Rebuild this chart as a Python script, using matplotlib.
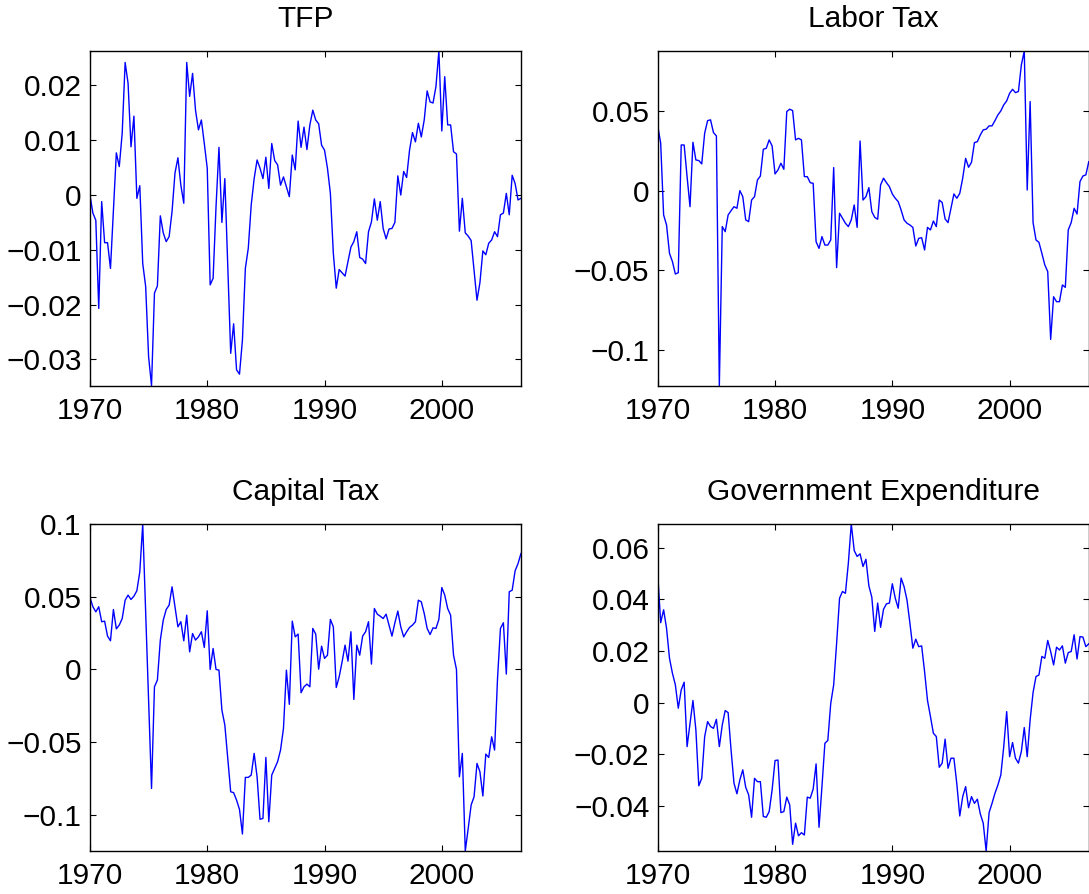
import numpy as np
import matplotlib
matplotlib.use('Agg')
from matplotlib import pyplot as plt
from matplotlib.ticker import FuncFormatter

plt.rcParams['font.family'] = ['Liberation Sans', 'DejaVu Sans']

# quarterly, 1970Q1 .. 2006Q4
years = np.arange(1970, 2007, 0.25)

tfp = [0.000, -0.0033, -0.0046, -0.0207, -0.0012, -0.0087, -0.0087, -0.0134, -0.003, 0.0077,
       0.0052, 0.0113, 0.0242, 0.0204, 0.0088, 0.0144, -0.0006, 0.0017, -0.0125, -0.0167,
       -0.0295, -0.0348, -0.0179, -0.0166, -0.0038, -0.0069, -0.0085, -0.0076, -0.003, 0.004,
       0.0068, 0.0018, -0.0015, 0.0242, 0.018, 0.0222, 0.0155, 0.0119, 0.0137, 0.0094,
       0.0049, -0.0164, -0.0152, -0.0021, 0.0087, -0.005, 0.003, -0.0131, -0.0289, -0.0235,
       -0.0319, -0.0327, -0.0265, -0.0134, -0.0097, -0.0018, 0.003, 0.0064, 0.0049, 0.003,
       0.0069, 0.0012, 0.0094, 0.0063, 0.0055, 0.0018, 0.0033, 0.0015, -0.0003, 0.0073,
       0.0046, 0.0135, 0.0087, 0.0124, 0.0083, 0.0128, 0.0155, 0.0137, 0.013, 0.0091,
       0.0082, 0.0049, 0.0003, -0.0106, -0.017, -0.0136, -0.0142, -0.0148, -0.0122, -0.0095,
       -0.0085, -0.0067, -0.0114, -0.0117, -0.0125, -0.0067, -0.0049, -0.0007, -0.0046, -0.0012,
       -0.0061, -0.008, -0.0062, -0.0061, -0.005, 0.0035, 0.0, 0.0043, 0.0032, 0.0082,
       0.0114, 0.0097, 0.0131, 0.0106, 0.0137, 0.019, 0.017, 0.0168, 0.0198, 0.0263,
       0.0117, 0.0216, 0.0128, 0.0128, 0.0079, 0.0075, -0.0066, -0.0006, -0.0069, -0.0075,
       -0.0083, -0.0137, -0.0192, -0.016, -0.0102, -0.0109, -0.0088, -0.0082, -0.0067, -0.0076,
       -0.0036, -0.0033, 0.0003, -0.0036, 0.0036, 0.0021, -0.0009, -0.0006]

labor_tax = [0.0409, 0.03, -0.0151, -0.0214, -0.0392, -0.0444, -0.0522, -0.0514, 0.0289, 0.0289,
             0.009, -0.0099, 0.0306, 0.0195, 0.0191, 0.017, 0.0363, 0.0442, 0.0447, 0.0367,
             0.0346, -0.1224, -0.0224, -0.0256, -0.0151, -0.0124, -0.0099, -0.0109, 0.0002, -0.0036,
             -0.0182, -0.0193, -0.0057, -0.0036, 0.0069, 0.0094, 0.0262, 0.0268, 0.0321, 0.0283,
             0.0107, 0.0132, 0.0174, 0.0136, 0.0499, 0.0514, 0.0505, 0.0321, 0.0331, 0.0321,
             0.009, 0.009, 0.0052, 0.0048, -0.0319, -0.0361, -0.0287, -0.034, -0.034, -0.0308,
             0.0147, -0.0482, -0.014, -0.0172, -0.0203, -0.0224, -0.0182, -0.0088, -0.0229, 0.0314,
             -0.0057, -0.0036, 0.0021, -0.013, -0.0166, -0.0178, 0.0038, 0.008, 0.0052, 0.0027,
             -0.0019, -0.0046, -0.0067, -0.012, -0.0182, -0.0203, -0.0214, -0.0229, -0.0346, -0.0298,
             -0.0294, -0.0371, -0.0229, -0.0245, -0.0189, -0.0224, -0.0057, -0.0073, -0.0176, -0.0199,
             -0.0109, -0.0019, -0.0046, -0.0015, 0.008, 0.0205, 0.0149, 0.018, 0.0304, 0.031,
             0.0352, 0.0384, 0.0388, 0.0409, 0.0409, 0.0442, 0.0478, 0.0503, 0.0541, 0.0566,
             0.0614, 0.0639, 0.0618, 0.0625, 0.0792, 0.088, 0.0006, 0.0562, -0.0199, -0.0308,
             -0.0323, -0.0392, -0.0465, -0.0507, -0.0933, -0.0665, -0.0696, -0.0696, -0.0591, -0.0606,
             -0.0245, -0.0199, -0.0109, -0.0145, 0.0059, 0.0094, 0.0101, 0.0184]

capital_tax = [0.0495, 0.0431, 0.0396, 0.0431, 0.0328, 0.0332, 0.0229, 0.0197, 0.0412, 0.0279,
               0.0305, 0.035, 0.0476, 0.0511, 0.0481, 0.0504, 0.0541, 0.0671, 0.0999, 0.039,
               -0.021, -0.0818, -0.0119, -0.0073, 0.0202, 0.0339, 0.0412, 0.0442, 0.0568, 0.0431,
               0.0293, 0.0328, 0.0197, 0.0373, 0.0121, 0.0247, 0.0202, 0.0224, 0.0259, 0.0151,
               0.0403, 0.0, 0.0144, 0.0, -0.0005, -0.0279, -0.0382, -0.0612, -0.0841, -0.0847,
               -0.0898, -0.0962, -0.1131, -0.0742, -0.0742, -0.0726, -0.0577, -0.0738, -0.103, -0.1024,
               -0.0605, -0.1047, -0.0726, -0.068, -0.0634, -0.0554, -0.0405, -0.0005, -0.024, 0.0332,
               0.0224, 0.0243, -0.016, -0.0119, -0.0101, -0.0119, 0.0282, 0.0243, 0.0002, 0.016,
               0.0076, 0.0098, 0.0344, 0.0293, -0.0124, -0.005, 0.0053, 0.0167, 0.0057, 0.0259,
               -0.0206, 0.0167, 0.0098, 0.0229, 0.0259, 0.0328, 0.0037, 0.0419, 0.038, 0.0366,
               0.035, 0.038, 0.0305, 0.0229, 0.0321, 0.0401, 0.0293, 0.0224, 0.0259, 0.0289,
               0.0305, 0.0328, 0.0476, 0.0465, 0.0385, 0.0282, 0.024, 0.0286, 0.0282, 0.0344,
               0.0563, 0.0511, 0.0419, 0.0373, 0.0098, 0.0, -0.0738, -0.0577, -0.1248, -0.1093,
               -0.0932, -0.0875, -0.0646, -0.0703, -0.087, -0.0582, -0.0605, -0.0463, -0.0554, -0.0062,
               0.0282, 0.0321, -0.0032, 0.0534, 0.0545, 0.0678, 0.0728, 0.0797]

gov_exp = [0.0495, 0.031, 0.036, 0.0288, 0.0172, 0.0114, 0.0069, -0.0022, 0.0049, 0.0079,
           -0.0171, -0.008, 0.0008, -0.0106, -0.0323, -0.0294, -0.0132, -0.0074, -0.0093, -0.01,
           -0.0065, -0.0171, -0.0087, -0.0031, -0.0039, -0.0184, -0.0313, -0.0354, -0.03, -0.0261,
           -0.0329, -0.0358, -0.0445, -0.0294, -0.0307, -0.0307, -0.0442, -0.0445, -0.0423, -0.0339,
           -0.0225, -0.0223, -0.0427, -0.0423, -0.0367, -0.0397, -0.055, -0.0468, -0.0517, -0.0505,
           -0.0514, -0.0367, -0.0371, -0.0336, -0.0238, -0.0484, -0.0326, -0.0158, -0.0147, -0.0003,
           0.0069, 0.023, 0.0405, 0.0431, 0.0424, 0.0541, 0.0693, 0.059, 0.0567, 0.0577,
           0.0528, 0.0556, 0.0453, 0.0409, 0.0276, 0.0386, 0.0292, 0.0362, 0.0383, 0.0386,
           0.0461, 0.0405, 0.0366, 0.0483, 0.045, 0.0398, 0.0308, 0.0211, 0.0246, 0.0217,
           0.022, 0.012, 0.0008, -0.0054, -0.0119, -0.0132, -0.0251, -0.0235, -0.0142, -0.0255,
           -0.0216, -0.0216, -0.0316, -0.044, -0.0365, -0.0326, -0.0408, -0.0365, -0.0391, -0.0375,
           -0.0432, -0.0468, -0.0576, -0.0427, -0.0391, -0.0352, -0.032, -0.0281, -0.0171, -0.0035,
           -0.021, -0.0155, -0.0216, -0.0235, -0.019, -0.0097, -0.021, -0.0067, 0.0039, 0.0101,
           0.0107, 0.0179, 0.0172, 0.0241, 0.0198, 0.0146, 0.0215, 0.0204, 0.022, 0.0153,
           0.0194, 0.0198, 0.0263, 0.0169, 0.0256, 0.0254, 0.0217, 0.0228]

titles = ['TFP', 'Labor Tax', 'Capital Tax', 'Government Expenditure']
series = [tfp, labor_tax, capital_tax, gov_exp]
yticks = [[-0.03, -0.02, -0.01, 0, 0.01, 0.02],
          [-0.1, -0.05, 0, 0.05],
          [-0.1, -0.05, 0, 0.05, 0.1],
          [-0.04, -0.02, 0, 0.02, 0.04, 0.06]]
xticks = [1970, 1980, 1990, 2000]

fig = plt.figure(figsize=(10.89, 8.94), dpi=100)
# axes boxes in figure fractions: [left, bottom, width, height]
boxes = [[0.0826, 0.5686, 0.3958, 0.3744],
         [0.6040, 0.5686, 0.3958, 0.3744],
         [0.0826, 0.0481, 0.3958, 0.3658],
         [0.6040, 0.0481, 0.3958, 0.3658]]

fmt = FuncFormatter(lambda v, p: ('%g' % v).replace('-', '\u2212'))

for box, title, y, yt in zip(boxes, titles, series, yticks):
    ax = fig.add_axes(box)
    y = np.array(y)
    ax.plot(years, y, color='#0000ff', lw=1.0)
    ax.set_xlim(years[0], years[-1])
    ax.set_ylim(y.min(), y.max())
    ax.set_xticks(xticks)
    ax.set_yticks(yt)
    ax.yaxis.set_major_formatter(fmt)
    ax.tick_params(direction='in', length=4, width=0.8, top=True, right=True,
                   labelsize=21.5, colors='black')
    ax.tick_params(axis='x', pad=8)
    ax.tick_params(axis='y', pad=6)
    for s in ax.spines.values():
        s.set_linewidth(1.0)
    ax.set_title(title, fontsize=21.5, pad=17)

fig.savefig('out.png', dpi=100)
